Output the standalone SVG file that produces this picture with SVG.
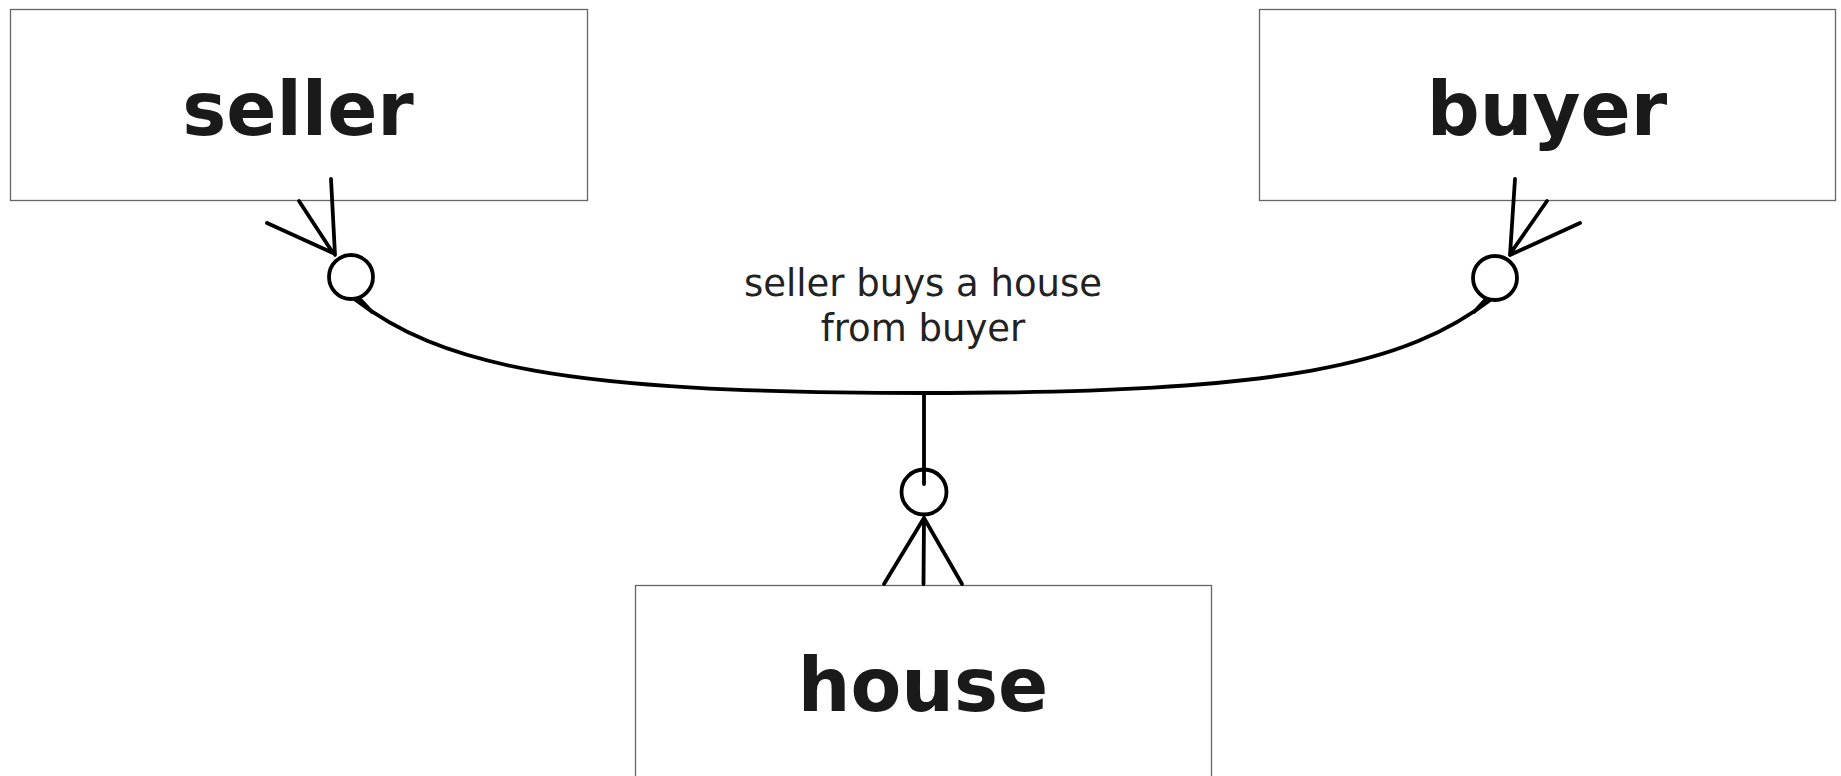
<svg xmlns="http://www.w3.org/2000/svg" width="1841" height="776" viewBox="0 0 1841 776">
<style>
.box{fill:#fff;stroke:#666;stroke-width:1.3}
.title{font-family:"DejaVu Sans",Verdana,sans-serif;font-weight:bold;font-size:74px;fill:#1a1a1a;text-anchor:middle}
.lbl{font-family:"DejaVu Sans",Verdana,sans-serif;font-size:37px;fill:#222;text-anchor:middle}
.ln{fill:none;stroke:#000;stroke-width:3.8;stroke-linecap:round;stroke-linejoin:round}
.ring{fill:#fff;stroke:#000;stroke-width:3.8}
</style>
<rect width="1841" height="776" fill="#fff"/>
<g id="seller">
<rect class="box" x="10.5" y="9.5" width="577" height="191"/>
<text class="title" x="298" y="135">seller</text>
</g>
<g id="buyer">
<rect class="box" x="1259.5" y="9.5" width="576" height="191"/>
<text class="title" x="1547" y="135">buyer</text>
</g>
<g id="house">
<rect class="box" x="635.5" y="585.5" width="576" height="195"/>
<text class="title" x="923" y="711">house</text>
</g>
<g id="connectors">
<path class="ln" d="M353,298 C440,365 560,393 923,393 C1286,393 1406,365 1493,298"/>
<path class="ln" d="M359,298 L372,312 M1487,298 L1474,312"/>
<line class="ln" x1="924" y1="393" x2="924" y2="470"/>
<path class="ln" d="M331,179 L335,255 M299,201 L333,253 M267,223 L333,253"/>
<circle class="ring" cx="351" cy="277" r="22"/>
<path class="ln" d="M1515,179 L1510,255 M1547,201 L1510,254 M1580,223 L1510,255"/>
<circle class="ring" cx="1495" cy="278" r="22"/>
<circle class="ring" cx="924" cy="492" r="22.5"/>
<line class="ln" x1="924" y1="469" x2="924" y2="484"/>
<path class="ln" d="M924,518 L884,584 M924,518 L923.5,584 M924,518 L962,584"/>
<text class="lbl" x="923" y="296">seller buys a house</text>
<text class="lbl" x="923" y="341">from buyer</text>
</g>
</svg>
